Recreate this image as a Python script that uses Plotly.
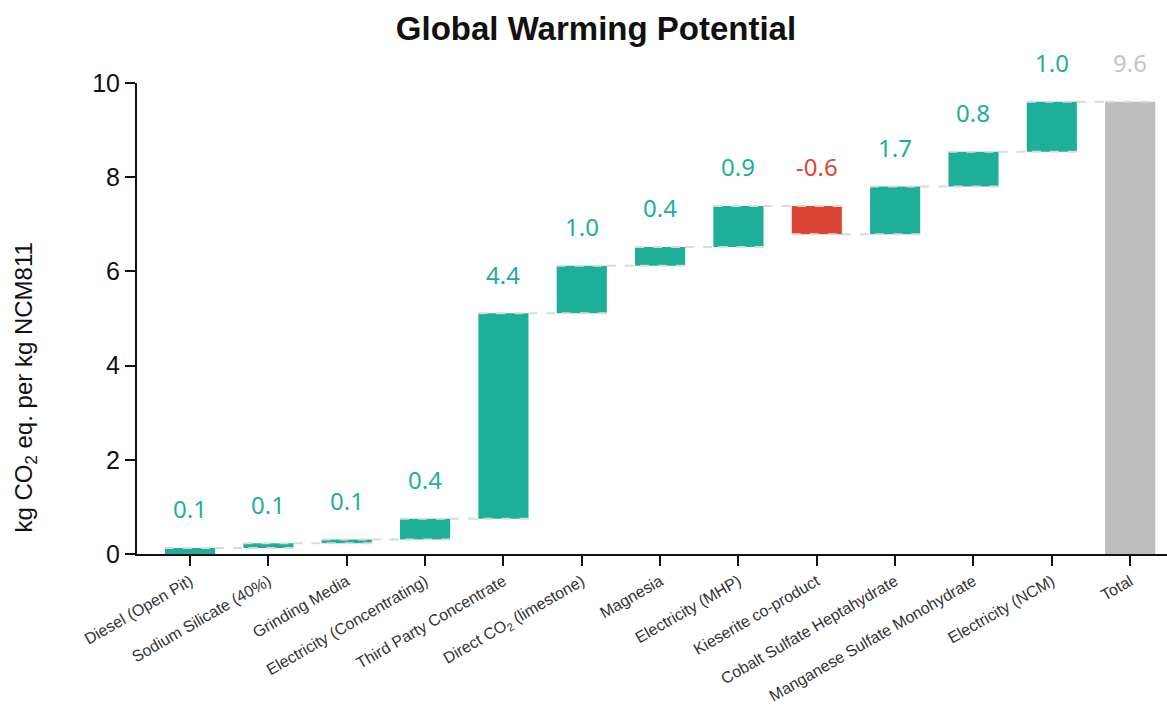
import numpy as np
import plotly.graph_objects as go

categories = [
    "Diesel (Open Pit)", "Sodium Silicate (40%)", "Grinding Media",
    "Electricity (Concentrating)", "Third Party Concentrate",
    "Direct CO<sub>2</sub> (limestone)", "Magnesia", "Electricity (MHP)",
    "Kieserite co-product", "Cobalt Sulfate Heptahydrate",
    "Manganese Sulfate Monohydrate", "Electricity (NCM)", "Total",
]
values = [0.13, 0.10, 0.08, 0.44, 4.36, 1.01, 0.40, 0.87, -0.60, 1.01, 0.74, 1.06, 9.60]
measures = ["relative"] * 12 + ["total"]
labels = ["0.1", "0.1", "0.1", "0.4", "4.4", "1.0", "0.4", "0.9", "-0.6", "1.7", "0.8", "1.0", "9.6"]

TEAL = "#1DAF9A"
RED = "#DD4537"
GREY = "#BDBDBD"

fig = go.Figure()
fig.add_trace(go.Waterfall(
    x=categories, y=values, measure=measures,
    width=0.64,
    increasing=dict(marker=dict(color=TEAL)),
    decreasing=dict(marker=dict(color=RED)),
    totals=dict(marker=dict(color=GREY)),
    connector=dict(mode="spanning", line=dict(color="#DADADA", width=2, dash="dash")),
    textinfo="none", hoverinfo="skip",
))

# label positions from running totals
rel = np.array(values[:-1])
ends = np.cumsum(rel)
starts = ends - rel
tops = list(np.maximum(starts, ends)) + [values[-1]]
label_colors = [TEAL if v >= 0 else RED for v in values[:-1]] + ["#C4C4C4"]

for c, t, lab, col in zip(categories, tops, labels, label_colors):
    fig.add_annotation(x=c, y=t, text=lab, showarrow=False, yanchor="middle",
                       yshift=39, font=dict(family="Noto Sans", size=24, color=col))

fig.add_annotation(xref="paper", yref="paper", x=0, y=(554 - 388) / 471,
                   xshift=-130, text="kg CO<sub>2</sub> eq. per kg NCM811",
                   textangle=-90, showarrow=False,
                   font=dict(family="Liberation Sans, Arial", size=24, color="#111"))

fig.update_layout(
    width=1167, height=711,
    margin=dict(l=137, r=0, t=83, b=157),
    plot_bgcolor="white", paper_bgcolor="white",
    showlegend=False,
    title=dict(text="<b>Global Warming Potential</b>", xref="container", x=596 / 1167,
               xanchor="center", y=1 - 28 / 711, yanchor="middle",
               font=dict(family="Liberation Sans, Arial", size=33, color="#111")),
    xaxis=dict(range=[-0.677, 12.47], showgrid=False, showline=True, linecolor="#111",
               linewidth=2, ticks="outside", ticklen=10, tickwidth=2, tickcolor="#111",
               tickangle=-30, tickfont=dict(family="Liberation Sans, Arial", size=16, color="#333")),
    yaxis=dict(range=[0, 10], showgrid=False, zeroline=False, showline=True, linecolor="#111",
               linewidth=2, ticks="outside", ticklen=10, tickwidth=2, tickcolor="#111",
               tickvals=[0, 2, 4, 6, 8, 10],
               tickfont=dict(family="Liberation Sans, Arial", size=25, color="#111")),
)

fig.write_html("out.html")
